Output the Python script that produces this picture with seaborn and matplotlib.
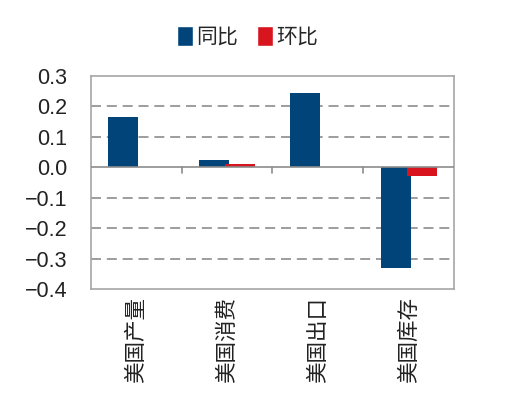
import pandas as pd
import seaborn as sns
import matplotlib
matplotlib.use("Agg")
import matplotlib.pyplot as plt

# 数据
categories = ["美国产量", "美国消费", "美国出口", "美国库存"]
yoy = [0.165, 0.022, 0.245, -0.33]   # 同比
mom = [0.0, 0.01, 0.0, -0.03]        # 环比
series_names = ["同比", "环比"]
yticks = [0.3, 0.2, 0.1, 0.0, -0.1, -0.2, -0.3, -0.4]

df = pd.DataFrame({
    "类别": categories * 2,
    "值": yoy + mom,
    "系列": [series_names[0]] * 4 + [series_names[1]] * 4,
})

sns.set_style("white")
plt.rcParams['font.family'] = ['Liberation Sans', 'Noto Sans CJK SC', 'DejaVu Sans']
plt.rcParams['axes.unicode_minus'] = True

colors = ["#00447A", "#D8141E"]
grey = "#8C8C8C"

fig = plt.figure(figsize=(5.05, 3.97), dpi=100)
ax = fig.add_axes([0.180, 0.272, 0.719, 0.537])

sns.barplot(data=df, x="类别", y="值", hue="系列", palette=colors,
            width=0.573, ax=ax, legend=False, saturation=1)

# 两组柱子略有重叠
bw = 0.33
for p in ax.patches:
    cx = p.get_x() + p.get_width() / 2
    p.set_width(bw)
    p.set_x(cx - bw / 2)
    p.set_linewidth(0)

ax.set_ylim(-0.4, 0.3)
ax.set_xlim(-0.5, 3.5)
ax.set_yticks(yticks)
ax.set_yticklabels([f"{v:.1f}".replace("-", "\u2212") for v in yticks])
for v in yticks:
    if v not in (0.3, -0.4, 0.0):
        ax.axhline(v, color=grey, lw=1.2, ls=(0, (6, 3.5)), zorder=0)
ax.axhline(0, color=grey, lw=1.2, zorder=3)
for b in [0.5, 1.5, 2.5]:
    ax.plot([b, b], [0, -0.018], color=grey, lw=1.2, zorder=3)

for s in ax.spines.values():
    s.set_color("#A6A6A6")
    s.set_linewidth(1.2)

ax.set_xlabel("")
ax.set_ylabel("")
ax.tick_params(axis="y", length=5, width=1.2, color=grey, pad=12, labelsize=15.5, labelcolor="#222222")
ax.tick_params(axis="x", length=0, pad=6, labelsize=15.5, labelcolor="#222222")
for t in ax.get_xticklabels():
    t.set_rotation(90)
    t.set_family(['Noto Sans CJK SC', 'DejaVu Sans'])
    t.set_va("top")

from matplotlib.patches import Patch
handles = [Patch(facecolor=c, label=n) for c, n in zip(colors, series_names)]
fig.legend(handles=handles, loc="center", bbox_to_anchor=(0.49, 0.907), ncol=2, frameon=False,
           handlelength=0.8, handleheight=1.15, handletextpad=0.15, columnspacing=0.9,
           prop={'family': ['Noto Sans CJK SC', 'DejaVu Sans'], 'size': 15})

fig.savefig("out.png", dpi=100)
